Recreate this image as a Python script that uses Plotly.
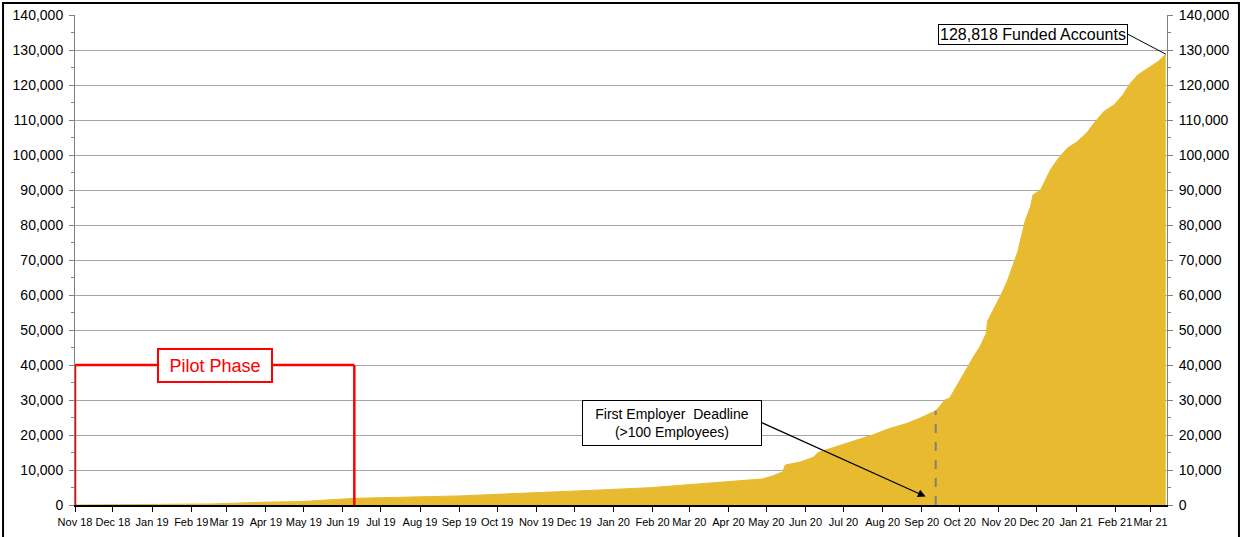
import plotly.graph_objects as go

# ---- data ----
dates = [
    '2018-11-19', '2018-12-19', '2019-01-19', '2019-02-18', '2019-03-08', '2019-03-19',
    '2019-03-30', '2019-04-19', '2019-05-18', '2019-06-06', '2019-06-17', '2019-06-28',
    '2019-08-03', '2019-08-27', '2019-09-20', '2019-10-19', '2019-11-14', '2019-12-10',
    '2020-01-09', '2020-02-17', '2020-04-02', '2020-04-28', '2020-05-16', '2020-05-24',
    '2020-06-01', '2020-06-03', '2020-06-15', '2020-06-25', '2020-06-29', '2020-07-16',
    '2020-08-01', '2020-08-11', '2020-08-24', '2020-09-07', '2020-09-18', '2020-09-30',
    '2020-10-04', '2020-10-07', '2020-10-11', '2020-10-14', '2020-10-19', '2020-10-25',
    '2020-10-30', '2020-11-04', '2020-11-09', '2020-11-10', '2020-11-18', '2020-11-22',
    '2020-11-26', '2020-11-30', '2020-12-04', '2020-12-07', '2020-12-10', '2020-12-14',
    '2020-12-16', '2020-12-22', '2020-12-26', '2020-12-30', '2021-01-05', '2021-01-12',
    '2021-01-20', '2021-01-28', '2021-02-02', '2021-02-10', '2021-02-18', '2021-02-25',
    '2021-03-03', '2021-03-09', '2021-03-17', '2021-03-25', '2021-03-31',
]
funded = [
    0, 50, 100, 200, 300, 450,
    600, 800, 1000, 1400, 1600, 1900,
    2200, 2350, 2600, 3050, 3400, 3800,
    4300, 4950, 6200, 6900, 7450, 8300,
    9500, 11400, 12300, 13600, 15000, 17000,
    18800, 20000, 21800, 23300, 24900, 26900,
    28500, 30000, 30500, 32400, 35200, 39000,
    42400, 45200, 49000, 52500, 58000, 61000,
    64300, 68600, 72400, 77000, 81400, 85200,
    88600, 90000, 92900, 95900, 99000, 101900,
    103800, 106500, 109000, 112400, 114300, 117100,
    120500, 122900, 124800, 126700, 128818,
]

axis_start = '2018-11-19'
axis_end = '2021-04-01'
y_max = 140000
y_step = 10000
y_minor = 5000

pilot_start = '2018-11-19'
pilot_end = '2019-06-28'
pilot_height = 40000
pilot_label_date = '2019-03-10'
pilot_label = 'Pilot Phase'

deadline = '2020-09-30'
deadline_arrow_date = '2020-09-22'
deadline_arrow_value = 2400
deadline_label = 'First Employer&nbsp; Deadline<br>(>100 Employees)'

total_label = f'{funded[-1]:,} Funded Accounts'

GOLD = 'rgb(231,186,47)'
GRID = '#A6A6A6'
FONT = 'Liberation Sans, Arial, sans-serif'

fig = go.Figure()
fig.add_trace(go.Scatter(
    x=dates, y=funded, mode='lines', line=dict(color=GOLD, width=1, shape='linear'),
    fill='tozeroy', fillcolor=GOLD, showlegend=False, hoverinfo='x+y',
))
# invisible trace so the right-hand axis is drawn
fig.add_trace(go.Scatter(
    x=dates, y=funded, mode='lines', line=dict(width=0, color='rgba(0,0,0,0)'),
    yaxis='y2', showlegend=False, hoverinfo='skip',
))

yaxis_common = dict(
    range=[0, y_max], dtick=y_step, tick0=0, tickformat=',d',
    ticks='outside', ticklen=5, tickcolor='#808080', tickwidth=1,
    showline=True, linecolor='#808080', linewidth=1,
    minor=dict(dtick=y_minor, ticks='outside', ticklen=3, tickcolor='#808080', showgrid=False),
    tickfont=dict(family=FONT, size=14, color='black'),
    zeroline=False, ticklabelstandoff=3, automargin=False,
)

fig.update_layout(
    width=1245, height=537,
    margin=dict(l=75, r=78, t=15, b=32, autoexpand=False),
    paper_bgcolor='white', plot_bgcolor='white',
    font=dict(family=FONT, color='black'),
    xaxis=dict(
        type='date', range=[axis_start, axis_end],
        tick0=axis_start, dtick='M1', tickformat='%b %y', tickangle=0,
        ticks='outside', ticklen=5, tickcolor='black', tickwidth=1,
        showline=True, linecolor='black', linewidth=2,
        showgrid=False, zeroline=False, automargin=False,
        tickfont=dict(family=FONT, size=11, color='black'),
        ticklabelstandoff=1,
    ),
    yaxis=dict(**yaxis_common, showgrid=True, gridcolor=GRID, gridwidth=1, side='left'),
    yaxis2=dict(**yaxis_common, showgrid=False, side='right', overlaying='y'),
)

# pilot phase bracket (open rectangle)
red = dict(color='#FF0000', width=2.5)
fig.add_shape(type='line', xref='x', yref='y', x0=pilot_start, x1=pilot_start, y0=0, y1=pilot_height, line=red)
fig.add_shape(type='line', xref='x', yref='y', x0=pilot_start, x1=pilot_end, y0=pilot_height, y1=pilot_height, line=red)
fig.add_shape(type='line', xref='x', yref='y', x0=pilot_end, x1=pilot_end, y0=0, y1=pilot_height, line=red)

fig.add_annotation(
    x=pilot_label_date, y=pilot_height, xref='x', yref='y', text=pilot_label, showarrow=False,
    font=dict(family=FONT, size=18, color='#FF0000'),
    bgcolor='white', bordercolor='#FF0000', borderwidth=2, borderpad=2,
    width=108, height=27,
)

# deadline dashed line
deadline_value = funded[dates.index(deadline)]
fig.add_shape(type='line', xref='x', yref='y', x0=deadline, x1=deadline, y0=0, y1=deadline_value,
              line=dict(color='#808080', width=2, dash='dash'))

fig.add_annotation(
    x=deadline_arrow_date, y=deadline_arrow_value, xref='x', yref='y',
    text=deadline_label, showarrow=True, arrowhead=2, arrowsize=1.3, arrowwidth=1.2,
    arrowcolor='black', ax=-164, ay=-74, xanchor='right', yanchor='middle',
    font=dict(family=FONT, size=14, color='black'),
    bgcolor='white', bordercolor='black', borderwidth=1, borderpad=3,
    width=172, height=38,
)

# total callout
fig.add_annotation(
    x=dates[-1], y=funded[-1], xref='x', yref='y',
    text=total_label, showarrow=True, arrowhead=0, arrowwidth=1, arrowcolor='black',
    ax=-38, ay=-20, xanchor='right', yanchor='middle',
    font=dict(family=FONT, size=16, color='black'),
    bgcolor='white', bordercolor='black', borderwidth=1, borderpad=1,
)

# outer frame of the picture
fig.add_shape(type='rect', xref='paper', yref='paper',
              x0=-0.0659, x1=1.0659, y0=-0.08, y1=1.0245,
              line=dict(color='black', width=2), layer='above')

fig.write_html('out.html', config={'displayModeBar': False},
               post_script="document.body.style.margin='0';")
